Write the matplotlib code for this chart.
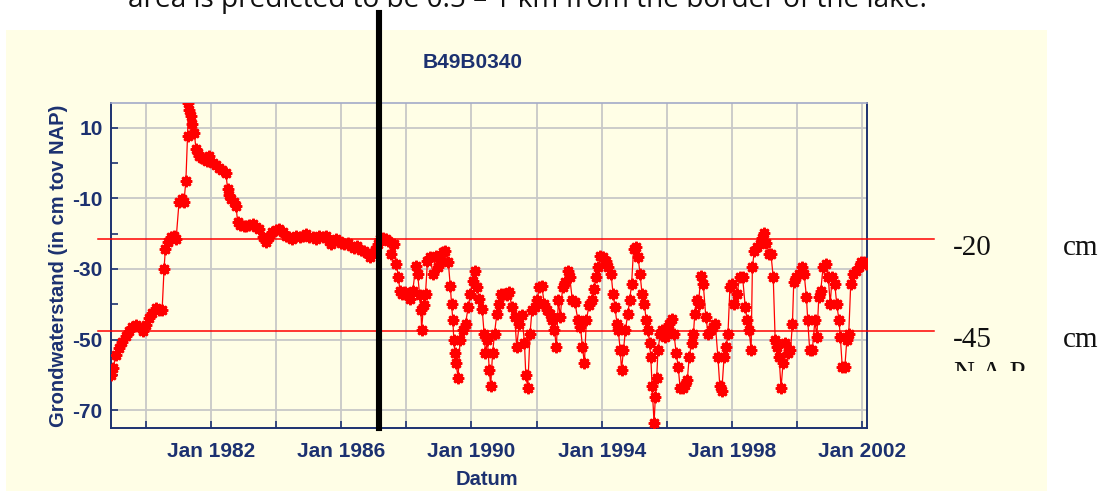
import matplotlib
import matplotlib.pyplot as plt
from matplotlib.patches import Rectangle
from matplotlib.ticker import FixedLocator, FuncFormatter

matplotlib.use("Agg")

NAVY = "#1c3170"
PANEL = "#fffee6"
GRID = "#c8c8c8"

CAPTION = "area is predicted to be 0.5 \u2013 1 km from the border of the lake."
WELL_ID = "B49B0340"
Y_LABEL = "Grondwaterstand (in cm tov NAP)"
X_LABEL = "Datum"

# measurement dates (decimal years) and groundwater level in cm relative to NAP
early_years = [
    1978.93, 1979.00, 1979.08, 1979.17, 1979.28, 1979.38, 1979.49, 1979.59,
    1979.69, 1979.80, 1979.90, 1980.00, 1980.10, 1980.20, 1980.30, 1980.40,
    1980.50, 1980.56, 1980.60, 1980.68, 1980.76, 1980.85, 1980.93, 1981.02,
    1981.10, 1981.17, 1981.23, 1981.28, 1981.31, 1981.34, 1981.38, 1981.43,
    1981.49, 1981.54, 1981.60, 1981.64, 1981.72, 1981.80, 1981.88, 1981.95,
    1982.05, 1982.15, 1982.25, 1982.35, 1982.46, 1982.51, 1982.56, 1982.61,
    1982.70, 1982.77, 1982.82, 1982.90, 1983.00, 1983.08, 1983.18, 1983.28,
    1983.38, 1983.49, 1983.59, 1983.69, 1983.79, 1983.89, 1984.00, 1984.10,
    1984.20, 1984.30, 1984.40, 1984.50, 1984.61, 1984.72, 1984.82, 1984.92,
    1985.02, 1985.12, 1985.22, 1985.33, 1985.43, 1985.54, 1985.62, 1985.69,
    1985.77, 1985.84, 1985.92, 1986.00, 1986.10, 1986.20, 1986.30, 1986.40,
    1986.50, 1986.60, 1986.70, 1986.80, 1986.90, 1986.97, 1987.05, 1987.12,
    1987.20,
]
early_levels = [
    -60.0, -58.0, -54.3, -52.5, -50.6, -49.0, -47.7, -46.5,
    -45.9, -46.5, -47.7, -46.0, -44.0, -42.5, -41.2, -41.5,
    -41.7, -29.9, -24.3, -22.3, -21.0, -20.5, -21.5, -11.0,
    -10.2, -11.0, -5.0, 7.6, 17.0, 15.0, 13.3, 11.0,
    8.6, 3.9, 3.0, 2.0, 1.5, 1.1, 0.5, 2.0,
    0.1, -0.5, -1.3, -2.0, -2.7, -7.4, -9.0, -10.2,
    -11.0, -12.1, -16.8, -17.5, -17.7, -17.7, -17.5, -17.3,
    -18.0, -18.6, -21.0, -22.4, -21.0, -19.6, -19.0, -18.6,
    -19.5, -20.5, -21.0, -21.5, -20.5, -21.0, -20.5, -20.0,
    -20.8, -21.0, -21.5, -20.5, -21.0, -20.5, -22.0, -22.9,
    -22.0, -21.5, -22.0, -22.5, -23.0, -22.5, -23.5, -24.0,
    -23.5, -24.5, -25.0, -25.5, -26.5, -25.5, -24.5, -23.0,
    -21.5,
]

late_years = [
    1987.29, 1987.37, 1987.45, 1987.53, 1987.61, 1987.69, 1987.76, 1987.80,
    1987.88, 1987.96, 1988.04, 1988.12, 1988.20, 1988.29, 1988.35, 1988.41,
    1988.45, 1988.47, 1988.53, 1988.59, 1988.65, 1988.73, 1988.82, 1988.90,
    1988.98, 1989.06, 1989.14, 1989.20, 1989.29, 1989.35, 1989.39, 1989.43,
    1989.46, 1989.49, 1989.53, 1989.59, 1989.65, 1989.73, 1989.82, 1989.90,
    1989.97, 1990.04, 1990.10, 1990.16, 1990.24, 1990.33, 1990.39, 1990.43,
    1990.49, 1990.55, 1990.59, 1990.65, 1990.71, 1990.78, 1990.84, 1990.92,
    1991.00, 1991.08, 1991.16, 1991.24, 1991.33, 1991.39, 1991.47, 1991.55,
    1991.63, 1991.67, 1991.73, 1991.80, 1991.86, 1991.94, 1992.02, 1992.08,
    1992.16, 1992.24, 1992.33, 1992.41, 1992.49, 1992.55, 1992.61, 1992.67,
    1992.73, 1992.80, 1992.88, 1992.96, 1993.02, 1993.10, 1993.18, 1993.27,
    1993.35, 1993.41, 1993.47, 1993.53, 1993.61, 1993.69, 1993.76, 1993.82,
    1993.90, 1993.96, 1994.04, 1994.12, 1994.20, 1994.29, 1994.35, 1994.41,
    1994.47, 1994.51, 1994.57, 1994.61, 1994.67, 1994.73, 1994.80, 1994.86,
    1994.92, 1994.98, 1995.04, 1995.12, 1995.18, 1995.24, 1995.31, 1995.37,
    1995.43, 1995.47, 1995.51, 1995.55, 1995.61, 1995.65, 1995.69, 1995.73,
    1995.80, 1995.86, 1995.94, 1996.00, 1996.08, 1996.16, 1996.22, 1996.29,
    1996.35, 1996.41, 1996.49, 1996.57, 1996.63, 1996.69, 1996.76, 1996.82,
    1996.86, 1996.92, 1996.98, 1997.04, 1997.12, 1997.20, 1997.27, 1997.35,
    1997.43, 1997.49, 1997.57, 1997.63, 1997.69, 1997.76, 1997.82, 1997.88,
    1997.94, 1998.00, 1998.08, 1998.16, 1998.24, 1998.33, 1998.41, 1998.47,
    1998.53, 1998.59, 1998.63, 1998.69, 1998.78, 1998.86, 1998.94, 1999.00,
    1999.06, 1999.14, 1999.20, 1999.27, 1999.33, 1999.39, 1999.45, 1999.51,
    1999.57, 1999.63, 1999.71, 1999.80, 1999.86, 1999.90, 1999.98, 2000.06,
    2000.14, 2000.22, 2000.29, 2000.33, 2000.39, 2000.47, 2000.55, 2000.61,
    2000.67, 2000.73, 2000.80, 2000.88, 2000.96, 2001.02, 2001.08, 2001.16,
    2001.22, 2001.29, 2001.33, 2001.39, 2001.47, 2001.53, 2001.59, 2001.65,
    2001.73, 2001.82, 2001.90, 2001.98, 2002.06, 2002.12,
]
late_levels = [
    -21.1, -21.5, -22.0, -25.8, -23.0, -28.6, -32.3, -36.1,
    -37.0, -36.6, -37.5, -38.5, -36.1, -29.1, -31.4, -37.5,
    -41.7, -47.2, -40.3, -37.0, -27.7, -26.7, -31.4, -26.2,
    -29.5, -27.7, -25.3, -24.8, -28.1, -34.7, -39.9, -44.6,
    -50.2, -53.9, -56.8, -61.0, -50.2, -47.4, -45.5, -40.8,
    -37.0, -33.3, -30.5, -35.2, -38.5, -41.3, -48.3, -53.9,
    -50.2, -58.6, -63.3, -53.9, -48.3, -42.7, -39.9, -37.0,
    -37.0, -37.5, -36.6, -40.8, -43.6, -52.1, -45.5, -43.1,
    -51.1, -60.0, -63.8, -48.3, -41.7, -40.8, -38.9, -35.2,
    -34.7, -39.9, -41.7, -42.7, -44.6, -47.4, -52.1, -38.9,
    -43.6, -35.2, -33.8, -30.5, -32.3, -38.9, -39.4, -44.6,
    -46.4, -52.1, -56.8, -44.6, -40.3, -38.9, -35.6, -32.3,
    -29.5, -26.2, -26.7, -27.7, -29.5, -31.4, -37.0, -40.8,
    -45.5, -47.4, -53.0, -58.6, -53.0, -47.4, -42.7, -38.9,
    -34.2, -24.4, -23.9, -26.7, -31.4, -37.0, -39.9, -44.6,
    -47.4, -51.1, -54.9, -63.3, -73.7, -66.2, -61.0, -53.0,
    -48.3, -47.4, -49.2, -47.4, -45.5, -44.1, -48.3, -53.9,
    -57.7, -63.8, -63.8, -62.9, -61.5, -54.9, -51.1, -48.3,
    -42.7, -38.9, -39.9, -31.9, -34.2, -43.6, -48.3, -47.4,
    -46.4, -45.5, -54.9, -63.3, -64.7, -54.9, -52.1, -48.3,
    -35.2, -34.2, -39.9, -37.0, -32.3, -32.3, -40.8, -44.6,
    -47.4, -53.0, -29.5, -24.8, -23.9, -23.0, -21.1, -19.7,
    -22.5, -25.8, -25.8, -32.3, -50.2, -52.1, -54.9, -63.8,
    -56.8, -51.1, -53.9, -53.0, -45.5, -33.8, -32.3, -31.4,
    -29.5, -31.4, -38.0, -44.6, -53.0, -53.0, -44.6, -49.2,
    -38.0, -36.1, -29.5, -28.6, -32.3, -39.9, -32.3, -34.2,
    -39.9, -44.6, -49.2, -57.7, -57.7, -50.2, -48.3, -34.2,
    -31.4, -30.5, -29.5, -28.1, -28.1, -28.6,
]

# reference levels as drawn on the figure, with their annotation text
ref_levels = [-21.5, -47.5]
ref_labels = ["-20", "-45"]
marker_year = 1987.16

labelled_years = [1982, 1986, 1990, 1994, 1998, 2002]
grid_years = list(range(1980, 2003, 2))
major_y = [-70, -50, -30, -10, 10]
minor_y = [-60, -40, -20, 0]

W, H = 1100, 491
fig = plt.figure(figsize=(W / 100, H / 100), dpi=100, facecolor="white")

# document caption (cut off at the top of the screenshot)
cap = fig.text(527 / W, 1 - 7 / H, CAPTION, ha="center", va="baseline",
               fontsize=20, family="Open Sans", color="#111111")
fig.canvas.draw()
cw = cap.get_window_extent().width
cap.set_fontsize(20 * 801 / cw)

fig.patches.append(Rectangle((6 / W, 0), (1047 - 6) / W, 1 - 29.5 / H,
                             transform=fig.transFigure, facecolor=PANEL,
                             edgecolor="none", zorder=-2))

ax = fig.add_axes((111 / W, 63 / H, 756 / W, 324.7 / H), facecolor=PANEL)
years = early_years + late_years
levels = early_levels + late_levels
ax.plot(years, levels, color="#ff0000", lw=0.9, marker=(8, 1, 0),
        markersize=8, markeredgewidth=1.8, zorder=3)

ax.set_xlim(1978.93, 2002.15)
ax.set_ylim(-75.1, 17.0)

ax.xaxis.set_major_locator(FixedLocator(grid_years))
ax.xaxis.set_major_formatter(FuncFormatter(
    lambda v, p: f"Jan {int(round(v))}" if int(round(v)) in labelled_years else ""))
ax.yaxis.set_major_locator(FixedLocator(major_y))
ax.yaxis.set_minor_locator(FixedLocator(minor_y))
ax.yaxis.set_major_formatter(FuncFormatter(lambda v, p: f"{int(v)}"))

ax.grid(True, which="major", color=GRID, lw=1.3, zorder=1)
ax.set_axisbelow(True)
ax.tick_params(axis="both", which="both", direction="in", length=5, width=1.2,
               color=NAVY, labelcolor=NAVY, labelsize=15)
ax.tick_params(axis="x", pad=10)
ax.tick_params(axis="y", pad=6)
for lbl in ax.get_xticklabels() + ax.get_yticklabels():
    lbl.set_fontweight("bold")
    lbl.set_family("Liberation Sans")

for side in ("left", "bottom", "right"):
    ax.spines[side].set_color(NAVY)
    ax.spines[side].set_linewidth(1.4)
ax.spines["top"].set_color("#a3abc8")
ax.spines["top"].set_linewidth(1.2)

ax.set_ylabel(Y_LABEL, fontsize=14.5, fontweight="bold", color=NAVY,
              family="Liberation Sans", va="center")
ax.yaxis.set_label_coords(-0.070, 0.5)
ax.set_xlabel(X_LABEL, fontsize=14.5, fontweight="bold", color=NAVY,
              family="Liberation Sans", va="center")
ax.xaxis.set_label_coords(0.497, -0.160)

fig.text(473 / W, 1 - 62 / H, WELL_ID, ha="center", va="center", fontsize=15,
         fontweight="bold", color=NAVY, family="Liberation Sans")

# overlay drawn in the document on top of the chart
for lvl, txt in zip(ref_levels, ref_labels):
    ax.axhline(lvl, xmin=-0.017, xmax=1.089, color="#ff0000", lw=1.1,
               clip_on=False, zorder=4)
    ypix = ax.transData.transform((0, lvl))[1]
    yfrac = ypix / H - 0.018
    fig.text(953 / W, yfrac, txt, ha="left", va="center", fontsize=21,
             family="Liberation Serif", color="#111111", zorder=5)
    fig.text(1063 / W, yfrac, "cm", ha="left", va="center", fontsize=21,
             family="Liberation Serif", color="#111111", zorder=5)

fig.text(953 / W, 1 - 381 / H, "N.A.P", ha="left", va="baseline", fontsize=21,
         family="Liberation Serif", color="#111111", zorder=5)
fig.patches.append(Rectangle((940 / W, 0), (1047 - 940) / W, 1 - 371 / H,
                             transform=fig.transFigure, facecolor=PANEL,
                             edgecolor="none", zorder=6))

ax.axvline(marker_year, ymin=0, ymax=1.279, color="black", lw=4.4,
           clip_on=False, zorder=6)

fig.savefig("out.png", dpi=100, facecolor="white")
